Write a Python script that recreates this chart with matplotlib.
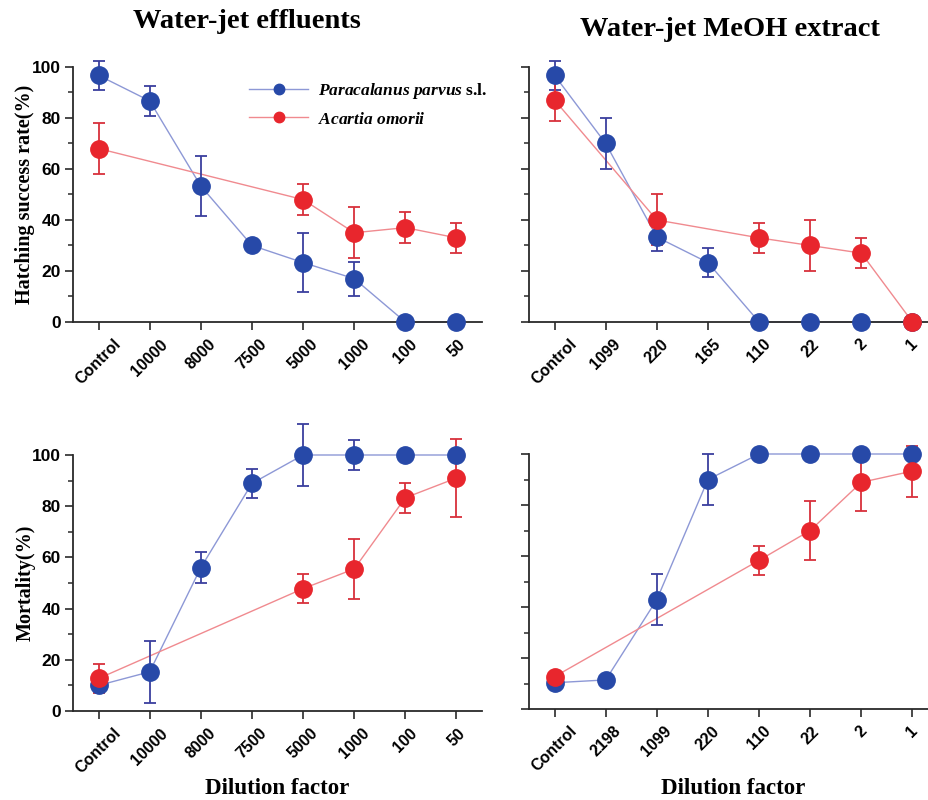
import numpy as np
import matplotlib
matplotlib.use("Agg")
import matplotlib.pyplot as plt
from matplotlib.lines import Line2D

plt.rcParams["mathtext.fontset"] = "custom"
plt.rcParams["mathtext.it"] = "Liberation Serif:italic:bold"
plt.rcParams["mathtext.rm"] = "Liberation Serif:bold"

# ---- data -------------------------------------------------------------
eff_labels = ["Control", "10000", "8000", "7500", "5000", "1000", "100", "50"]
hatch_meoh_labels = ["Control", "1099", "220", "165", "110", "22", "2", "1"]
mort_meoh_labels = ["Control", "2198", "1099", "220", "110", "22", "2", "1"]

nan = np.nan

# Hatching success rate (%), water-jet effluents
hatch_eff_pp = [96.7, 86.7, 53.3, 30.0, 23.3, 17.0, 0.0, 0.0]
hatch_eff_pp_err = [5.8, 5.8, 11.7, 0.0, 11.6, 6.7, 0.0, 0.0]
hatch_eff_ao = [68.0, nan, nan, nan, 48.0, 35.0, 37.0, 33.0]
hatch_eff_ao_err = [10.0, nan, nan, nan, 6.0, 10.0, 6.0, 6.0]

# Hatching success rate (%), water-jet MeOH extract
hatch_meoh_pp = [96.7, 70.0, 33.3, 23.3, 0.0, 0.0, 0.0, 0.0]
hatch_meoh_pp_err = [5.8, 10.0, 5.6, 5.8, 0.0, 0.0, 0.0, 0.0]
hatch_meoh_ao = [87.0, nan, 40.0, nan, 33.0, 30.0, 27.0, 0.0]
hatch_meoh_ao_err = [8.0, nan, 10.0, nan, 6.0, 10.0, 6.0, 0.0]

# Mortality (%), water-jet effluents
mort_eff_pp = [10.0, 15.3, 56.0, 88.9, 100.0, 100.0, 100.0, 100.0]
mort_eff_pp_err = [0.0, 12.0, 6.0, 5.8, 12.0, 6.0, 0.0, 0.0]
mort_eff_ao = [12.7, nan, nan, nan, 47.8, 55.5, 83.3, 91.0]
mort_eff_ao_err = [5.7, nan, nan, nan, 5.8, 11.7, 5.8, 15.3]

# Mortality (%), water-jet MeOH extract
mort_meoh_pp = [10.3, 11.4, 42.9, 90.0, 100.0, 100.0, 100.0, 100.0]
mort_meoh_pp_err = [0.0, 0.0, 10.0, 10.0, 0.0, 0.0, 0.0, 0.0]
mort_meoh_ao = [12.7, nan, nan, nan, 58.3, 70.0, 88.9, 93.3]
mort_meoh_ao_err = [0.0, nan, nan, nan, 5.8, 11.7, 11.4, 10.0]

species = ["Paracalanus parvus", "Acartia omorii"]

# ---- styling ----------------------------------------------------------
BLUE = "#2749a8"
BLUE_LINE = "#8d98d6"
BLUE_ERR = "#3a3f9e"
RED = "#e8262d"
RED_LINE = "#f08a8f"
RED_ERR = "#d8303c"
SPINE = "#2a2a2a"

serif = "Liberation Serif"
sans = "Liberation Sans"

fig = plt.figure(figsize=(9.29, 8.0), dpi=100)

W = 0.4403
H = 0.3188
ax_tl = fig.add_axes([73 / 929, 1 - 322 / 800, W, H])
ax_tr = fig.add_axes([529 / 929, 1 - 322 / 800, W, H])
ax_bl = fig.add_axes([73 / 929, 1 - 711 / 800, W, 256 / 800])
ax_br = fig.add_axes([529 / 929, 1 - 709 / 800, W, 255 / 800])


def draw_series(ax, y, err, marker_color, line_color, err_color):
    y = np.asarray(y, dtype=float)
    err = np.asarray(err, dtype=float)
    idx = np.arange(len(y))
    ok = ~np.isnan(y)
    x = idx[ok]
    ax.plot(x, y[ok], color=line_color, lw=1.0, zorder=2, clip_on=False)
    ax.errorbar(x, y[ok], yerr=err[ok], fmt="none", ecolor=err_color,
                elinewidth=1.3, capsize=4.5, capthick=1.3, zorder=3,
                clip_on=False)
    ax.plot(x, y[ok], "o", color=marker_color, ms=12.5, mec=marker_color,
            zorder=4, clip_on=False)


def style_axes(ax, labels, show_ylabels=True):
    ax.set_xlim(-0.5, 7.5)
    ax.set_ylim(0, 100)
    for s in ("top", "right"):
        ax.spines[s].set_visible(False)
    for s in ("left", "bottom"):
        ax.spines[s].set_color(SPINE)
        ax.spines[s].set_linewidth(1.3)
    ax.set_xticks(np.arange(len(labels)))
    ax.set_xticklabels(labels, rotation=45, ha="center", va="top",
                       fontfamily=sans, fontweight="bold", fontsize=11.5)
    ax.set_yticks([0, 20, 40, 60, 80, 100])
    ax.set_yticks([10, 30, 50, 70, 90], minor=True)
    ax.tick_params(axis="both", which="major", direction="out", length=6,
                   width=1.2, color=SPINE, pad=3)
    ax.tick_params(axis="y", which="minor", direction="out", length=3.5,
                   width=1.1, color=SPINE)
    ax.tick_params(axis="x", which="major", pad=4.5)
    if show_ylabels:
        ax.set_yticklabels(["0", "20", "40", "60", "80", "100"],
                           fontfamily=sans, fontweight="bold", fontsize=12.5)
    else:
        ax.set_yticklabels([])


panels = [
    (ax_tl, eff_labels, hatch_eff_pp, hatch_eff_pp_err, hatch_eff_ao, hatch_eff_ao_err, True),
    (ax_tr, hatch_meoh_labels, hatch_meoh_pp, hatch_meoh_pp_err, hatch_meoh_ao, hatch_meoh_ao_err, False),
    (ax_bl, eff_labels, mort_eff_pp, mort_eff_pp_err, mort_eff_ao, mort_eff_ao_err, True),
    (ax_br, mort_meoh_labels, mort_meoh_pp, mort_meoh_pp_err, mort_meoh_ao, mort_meoh_ao_err, False),
]

for ax, labels, pp, pp_err, ao, ao_err, show in panels:
    style_axes(ax, labels, show)
    draw_series(ax, pp, pp_err, BLUE, BLUE_LINE, BLUE_ERR)
    draw_series(ax, ao, ao_err, RED, RED_LINE, RED_ERR)

# axis titles and labels
ax_tl.set_ylabel("Hatching success rate(%)", fontfamily=serif,
                 fontweight="bold", fontsize=14.5, va="center")
ax_tl.yaxis.set_label_coords(-0.118, 0.5)
ax_bl.set_ylabel("Mortality(%)", fontfamily=serif, fontweight="bold",
                 fontsize=14.5, va="center")
ax_bl.yaxis.set_label_coords(-0.116, 0.5)

fig.text(247 / 929, 1 - 22 / 800, "Water-jet effluents", ha="center",
         va="center", fontfamily=serif, fontweight="bold", fontsize=20.5)
fig.text(730 / 929, 1 - 30 / 800, "Water-jet MeOH extract", ha="center",
         va="center", fontfamily=serif, fontweight="bold", fontsize=20.5)

fig.text(277 / 929, 1 - 789 / 800, "Dilution factor", ha="center",
         va="center", fontfamily=serif, fontweight="bold", fontsize=16.5)
fig.text(733 / 929, 1 - 789 / 800, "Dilution factor", ha="center",
         va="center", fontfamily=serif, fontweight="bold", fontsize=16.5)

# legend
handles = [
    Line2D([0], [0], color=BLUE_LINE, lw=1.0, marker="o", ms=7.5,
           mfc=BLUE, mec=BLUE),
    Line2D([0], [0], color=RED_LINE, lw=1.0, marker="o", ms=7.5,
           mfc=RED, mec=RED),
]
legend_labels = [r"$\it{Paracalanus\ parvus}$ s.l.", r"$\it{Acartia\ omorii}$"]
leg = ax_tl.legend(handles, legend_labels, loc="upper left",
                   bbox_to_anchor=(249 / 929, 1 - 81 / 800),
                   bbox_transform=fig.transFigure, frameon=False,
                   handlelength=3.4, handletextpad=0.55, labelspacing=0.6,
                   borderaxespad=0, borderpad=0,
                   prop={"family": serif, "weight": "bold", "size": 12.5})

fig.savefig("out.png", dpi=100)
